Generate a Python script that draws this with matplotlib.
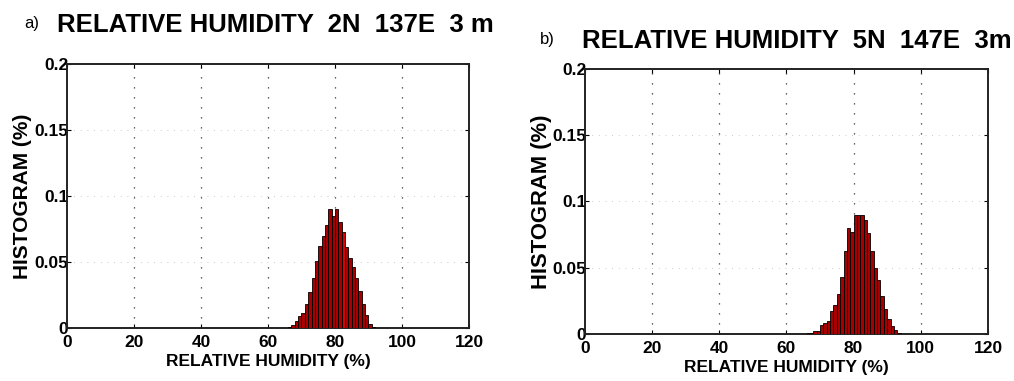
import matplotlib
matplotlib.use("Agg")
import matplotlib.pyplot as plt
import numpy as np

# ---- data ----
bins_a = [66, 67, 68, 69, 70, 71, 72, 73, 74, 75, 76, 77, 78, 79, 80, 81, 82, 83, 84, 85, 86, 87, 88, 89, 90, 91]
hist_a = [0.001, 0.002, 0.005, 0.009, 0.011, 0.018, 0.027, 0.038, 0.051, 0.062, 0.070, 0.078, 0.090, 0.085,
          0.090, 0.080, 0.073, 0.061, 0.053, 0.046, 0.038, 0.028, 0.018, 0.010, 0.003, 0.001]

bins_b = [66, 67, 68, 69, 70, 71, 72, 73, 74, 75, 76, 77, 78, 79, 80, 81, 82, 83, 84, 85, 86, 87, 88, 89, 90, 91, 92, 93]
hist_b = [0.001, 0.001, 0.002, 0.002, 0.007, 0.008, 0.010, 0.017, 0.022, 0.030, 0.043, 0.063, 0.080, 0.077,
          0.090, 0.090, 0.090, 0.086, 0.076, 0.063, 0.050, 0.041, 0.029, 0.019, 0.011, 0.006, 0.003, 0.001]

xticks = [0, 20, 40, 60, 80, 100, 120]
yticks = [0, 0.05, 0.1, 0.15, 0.2]
ytick_labels = ["0", "0.05", "0.1", "0.15", "0.2"]
titles = ["RELATIVE HUMIDITY  2N  137E  3 m", "RELATIVE HUMIDITY  5N  147E  3m"]
panel_tags = ["a)", "b)"]
xlabel = "RELATIVE HUMIDITY (%)"
ylabel = "HISTOGRAM (%)"

FAM = ["Liberation Sans", "DejaVu Sans"]

fig = plt.figure(figsize=(10.14, 3.81), dpi=100)
fig.patch.set_facecolor("white")

positions = [[0.0661, 0.1391, 0.3964, 0.693], [0.5769, 0.1234, 0.3974, 0.6955]]
title_pos = [(0.0562, 0.934), (0.574, 0.892)]
tag_pos = [(0.024, 0.934), (0.532, 0.892)]
ylabel_x = [0.022, 0.534]
ylabel_size = [15, 15.8]

datasets = [(bins_a, hist_a), (bins_b, hist_b)]

for i, (bins, hist) in enumerate(datasets):
    ax = fig.add_axes(positions[i])
    colors = ["#a80000"] * len(bins)
    if i == 0:
        colors[bins.index(82)] = "#e00000"
    ax.bar(bins, hist, width=1.0, align="edge", color=colors, edgecolor="black", linewidth=0.6, zorder=3)
    ax.set_xlim(0, 120)
    ax.set_ylim(0, 0.2)
    ax.set_xticks(xticks)
    ax.set_yticks(yticks)
    ax.set_xticklabels([str(t) for t in xticks], family=FAM, fontweight="bold", fontsize=12.5)
    ax.set_yticklabels(ytick_labels, family=FAM, fontweight="bold", fontsize=12.5)
    ax.tick_params(direction="in", length=3, width=0.8, top=True, right=True, pad=5)
    ax.tick_params(axis="y", pad=-1)
    for sp in ax.spines.values():
        sp.set_linewidth(1.4)
        sp.set_color("#222222")
    # dotted grid
    for xv in xticks[1:-1]:
        ax.axvline(xv, color="#333333", linestyle=(0, (1, 7)), linewidth=0.9, zorder=1)
    for yv in yticks[1:-1]:
        ax.axhline(yv, color="#bbbbbb", linestyle=(0, (1, 7)), linewidth=0.6, zorder=1)
    ax.set_xlabel(xlabel, family=FAM, fontweight="bold", fontsize=12.5, labelpad=3)
    fig.text(ylabel_x[i], positions[i][1] + positions[i][3] / 2, ylabel, rotation=90,
             family=FAM, fontweight="bold", fontsize=ylabel_size[i], ha="center", va="center")
    fig.text(title_pos[i][0], title_pos[i][1], titles[i], family=FAM, fontweight="bold",
             fontsize=18.5, ha="left", va="center")
    fig.text(tag_pos[i][0], tag_pos[i][1] + 0.005, panel_tags[i], family=FAM,
             fontsize=12, ha="left", va="center")

fig.savefig("out.png", dpi=100)
